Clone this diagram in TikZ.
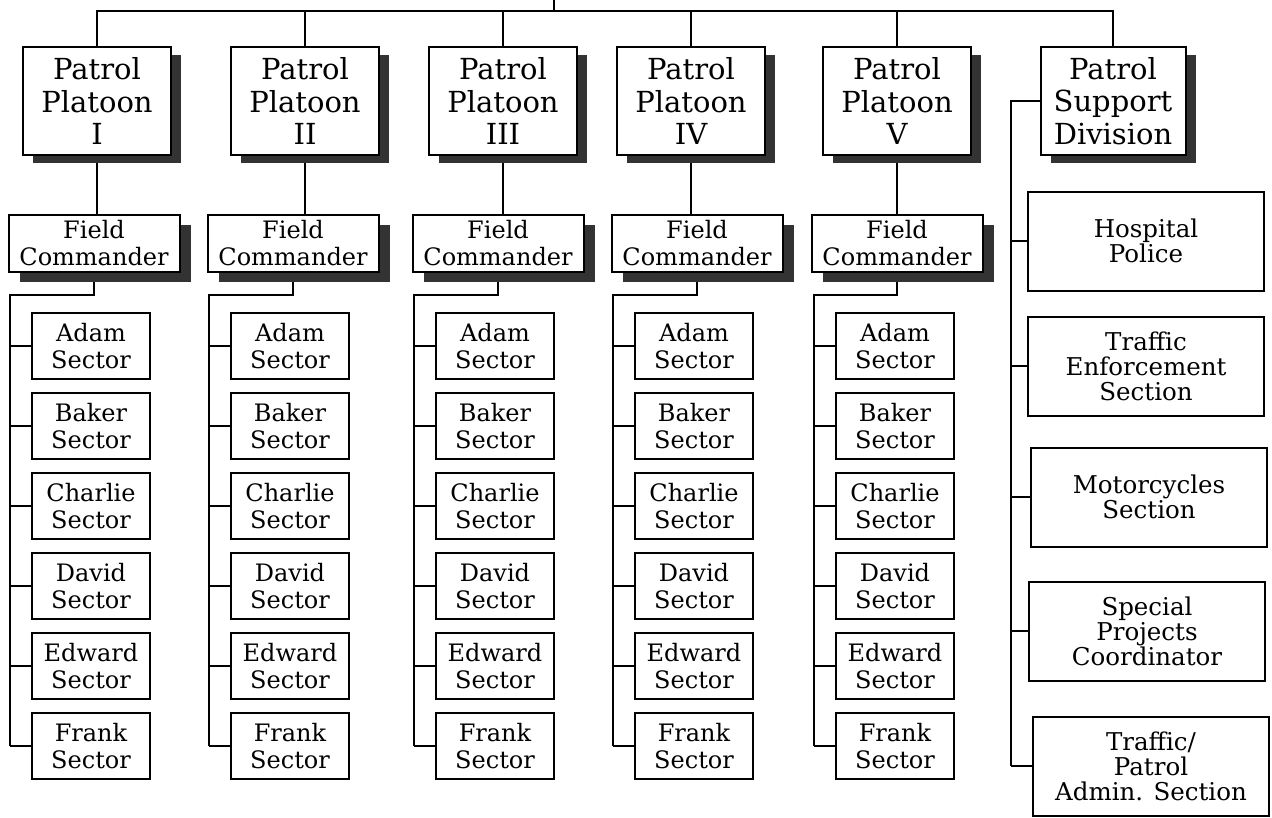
\documentclass[tikz,border=0pt]{standalone}
\usepackage{fontspec}
\setmainfont{DejaVu Serif}
\usetikzlibrary{positioning,shadows,backgrounds}
\tikzset{
  platoon/.style={draw,line width=2pt,fill=white,align=center,inner sep=0pt,minimum width=148pt,minimum height=108pt,font=\fontsize{29}{32.5}\selectfont,drop shadow={shadow xshift=10pt,shadow yshift=-8pt,fill=black!80,opacity=1}},
  commander/.style={draw,line width=2pt,fill=white,align=center,inner sep=0pt,minimum width=171pt,minimum height=57pt,font=\fontsize{24}{27}\selectfont,drop shadow={shadow xshift=11pt,shadow yshift=-10pt,fill=black!80,opacity=1}},
  sector/.style={draw,line width=2pt,fill=white,align=center,inner sep=0pt,minimum width=118pt,minimum height=66pt,font=\fontsize{24}{27}\selectfont},
  section/.style={draw,line width=2pt,fill=white,align=center,inner sep=0pt,minimum width=236pt,minimum height=99pt,font=\fontsize{24.5}{25}\selectfont},
  link/.style={line width=1.2pt}
}

\begin{document}
\begin{tikzpicture}[x=1pt,y=-1pt]
    \useasboundingbox (0,0) rectangle (1272,817);
    \coordinate (top) at (554,0);
    \coordinate (bus) at (554,11);
    % platoons
    \node[platoon] (pl1) at (97,101) {Patrol\\Platoon\\I};
    \node[platoon] (pl2) at (305,101) {Patrol\\Platoon\\II};
    \node[platoon] (pl3) at (503,101) {Patrol\\Platoon\\III};
    \node[platoon] (pl4) at (691,101) {Patrol\\Platoon\\IV};
    \node[platoon] (pl5) at (897,101) {Patrol\\Platoon\\V};
    \node[platoon,minimum width=145pt] (sup) at (1113,101) {Patrol\\Support\\Division};
    % field commanders
    \node[commander] (fc1) at (94,243) {Field\\Commander};
    \node[commander] (fc2) at (293,243) {Field\\Commander};
    \node[commander] (fc3) at (498,243) {Field\\Commander};
    \node[commander] (fc4) at (697,243) {Field\\Commander};
    \node[commander] (fc5) at (897,243) {Field\\Commander};
    % sectors
    \foreach \c/\x in {1/91,2/290,3/495,4/694,5/895}{
      \coordinate (tr\c) at ({\x-81},295);
      \foreach \s [count=\k] in {Adam,Baker,Charlie,David,Edward,Frank}
        \node[sector] (s\c\k) at (\x,{266+80*\k}) {\s\\Sector};
    }
    % support division
    \node[section] (sec1) at (1146,241) {Hospital\\Police};
    \node[section] (sec2) at (1146,366) {Traffic\\Enforcement\\Section};
    \node[section] (sec3) at (1149,497) {Motorcycles\\Section};
    \node[section] (sec4) at (1147,631) {Special\\Projects\\Coordinator};
    \node[section] (sec5) at (1151,766) {Traffic/\\Patrol\\Admin. Section};
    \coordinate (spine) at (1011,101);

    \begin{scope}[on background layer]
      \fill[white] (0,0) rectangle (1272,817);
      \draw[link] (top) -- (bus);
      \draw[link] (pl1.north) |- (bus) -| (sup.north);
      \foreach \c in {2,...,5}
        \draw[link] (pl\c.north) -- (pl\c.north |- bus);
      \foreach \c in {1,...,5}{
        \draw[link] (pl\c.south) -- (pl\c.south |- fc\c.north);
        \draw[link] (fc\c.south) |- (tr\c) -- (tr\c |- s\c6.west);
        \foreach \k in {1,...,6}
          \draw[link] (tr\c |- s\c\k.west) -- (s\c\k.west);
      }
      \draw[link] (sup.west) -- (spine) -- (spine |- sec5.west);
      \foreach \k in {1,...,5}
        \draw[link] (spine |- sec\k.west) -- (sec\k.west);
    \end{scope}
  \end{tikzpicture}
\end{document}
